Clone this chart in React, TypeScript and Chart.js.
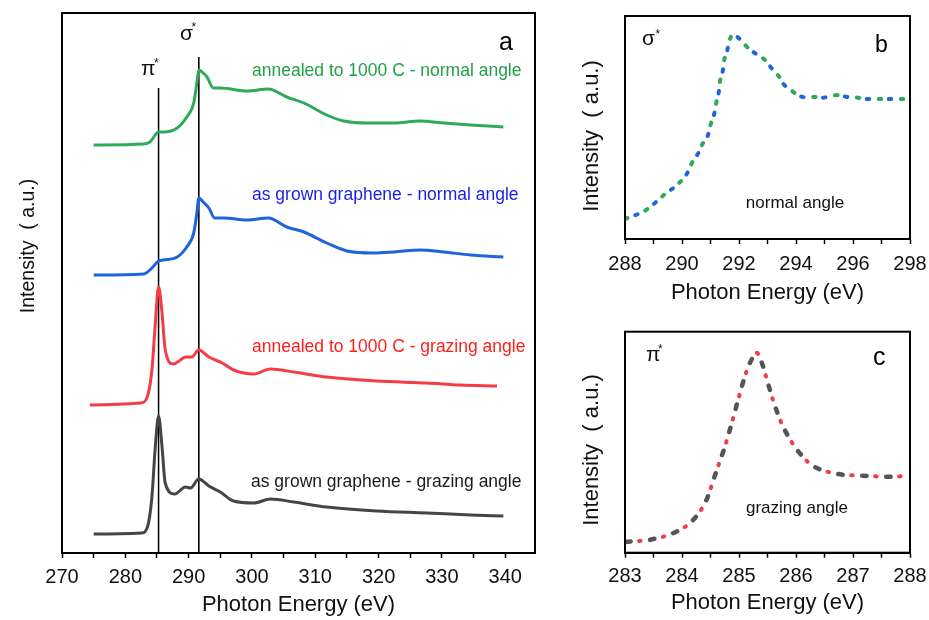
import React, { useEffect, useRef } from "react";
import { Chart, registerables } from "chart.js";
Chart.register(...registerables);

// ---------- Panel a data (arbitrary stacked intensity units) ----------
const A_GREEN_E = [275, 282.9, 283.9, 285.25, 286, 288.2, 289.7, 290.8, 291.3, 291.6, 292.1, 292.9, 293.9, 295, 299.2, 302.6, 305.5, 308.2, 311.8, 314.5, 318.2, 322.4, 326.6, 330.3, 334.5, 339.7];
const A_GREEN_I = [4.08, 4.09, 4.11, 4.21, 4.21, 4.25, 4.36, 4.5, 4.7, 4.83, 4.81, 4.76, 4.65, 4.65, 4.62, 4.64, 4.56, 4.5, 4.38, 4.32, 4.3, 4.3, 4.32, 4.3, 4.28, 4.26];

const A_BLUE_E = [275, 282.9, 284.2, 285.25, 286, 288.2, 289.7, 290.8, 291.3, 291.6, 292.3, 293.2, 294.1, 295.6, 299.2, 302.6, 305.5, 308.2, 311.8, 315, 319.2, 322.4, 326.6, 330.3, 334.5, 339.7];
const A_BLUE_I = [2.78, 2.79, 2.85, 2.92, 2.93, 2.96, 3.06, 3.2, 3.4, 3.55, 3.51, 3.45, 3.35, 3.35, 3.33, 3.35, 3.26, 3.21, 3.1, 3.02, 3.0, 3.01, 3.03, 3.01, 2.98, 2.96];

const A_RED_E = [274.4, 282.4, 283.4, 284.2, 284.7, 285.25, 285.8, 286.3, 287.6, 288.7, 289.5, 290.5, 291.6, 293.2, 295.3, 297.1, 300.3, 302.9, 306.6, 311.8, 319.7, 327.6, 332.9, 338.7];
const A_RED_I = [1.48, 1.5, 1.55, 1.83, 2.26, 2.66, 2.4, 2.03, 1.89, 1.93, 1.96, 1.96, 2.03, 1.96, 1.9, 1.83, 1.79, 1.84, 1.81, 1.76, 1.72, 1.7, 1.68, 1.67];

const A_GRAY_E = [275, 282.6, 283.5, 284.2, 284.7, 285.25, 285.8, 286.3, 287.8, 289.5, 290.3, 291.6, 293.2, 295, 297.1, 300.3, 302.9, 306.6, 311.8, 319.7, 327.6, 334.5, 339.7];
const A_GRAY_I = [0.19, 0.2, 0.26, 0.56, 1.03, 1.37, 1.06, 0.7, 0.59, 0.66, 0.65, 0.74, 0.67, 0.61, 0.52, 0.5, 0.54, 0.51, 0.46, 0.42, 0.4, 0.38, 0.37];

const PI_LINE_E = [285.25, 285.25];
const PI_LINE_I = [4.65, 0];
const SIGMA_LINE_E = [291.6, 291.6];
const SIGMA_LINE_I = [4.96, 0];

const A_LABELS = [
  "annealed to 1000 C - normal angle",
  "as grown graphene - normal angle",
  "annealed to 1000 C - grazing angle",
  "as grown graphene - grazing angle",
];

// ---------- Panel b data (sigma* region, normal angle) ----------
const B_E = [288, 288.74, 289.4, 290.05, 290.49, 290.9, 291.18, 291.33, 291.51, 291.78, 292.36, 292.99, 293.56, 294.02, 294.73, 295.54, 296.01, 296.6, 297.3, 298];
const B_GREEN_I = [0.2, 0.29, 0.45, 0.61, 0.84, 1.06, 1.33, 1.57, 1.82, 2.04, 1.9, 1.77, 1.57, 1.45, 1.42, 1.44, 1.42, 1.4, 1.4, 1.4];
const B_BLUE_I = [0.2, 0.29, 0.45, 0.6, 0.82, 1.03, 1.31, 1.53, 1.79, 2.04, 1.9, 1.76, 1.55, 1.44, 1.41, 1.43, 1.41, 1.4, 1.4, 1.4];

// ---------- Panel c data (pi* region, grazing angle) ----------
const C_E = [283.02, 283.44, 283.9, 284.2, 284.43, 284.6, 284.74, 284.87, 284.99, 285.13, 285.22, 285.31, 285.4, 285.49, 285.6, 285.75, 285.98, 286.27, 286.71, 287.18, 287.65, 288];
const C_RED_I = [0.11, 0.13, 0.21, 0.33, 0.53, 0.81, 1.04, 1.29, 1.54, 1.81, 1.93, 2.0, 1.9, 1.73, 1.52, 1.29, 1.06, 0.88, 0.79, 0.77, 0.76, 0.77];
const C_GRAY_I = [0.11, 0.13, 0.21, 0.33, 0.53, 0.81, 1.04, 1.29, 1.54, 1.81, 1.93, 2.0, 1.9, 1.73, 1.52, 1.29, 1.06, 0.88, 0.79, 0.77, 0.76, 0.77];

const X_TITLE = "Photon Energy (eV)";
const Y_TITLE = "Intensity  ( a.u.)";

const FONT = "'Liberation Sans', Arial, sans-serif";
const GREEN = "#2eaa5a";
const BLUE = "#1f64dc";
const RED = "#f23c46";
const GRAY = "#454545";

const pts = (xs: number[], ys: number[]) => xs.map((x, i) => ({ x, y: ys[i] }));

type TextItem = { text: string; x: number; y: number; size: number; color?: string; align?: CanvasTextAlign };

function decorPlugin(texts: TextItem[], yTitle: { x: number; y: number; size: number }) {
  return {
    id: "decor",
    afterDraw(chart: any) {
      const { ctx, chartArea: a } = chart;
      ctx.save();
      ctx.strokeStyle = "#000";
      ctx.lineWidth = 2;
      ctx.strokeRect(a.left, a.top, a.right - a.left, a.bottom - a.top);
      ctx.textBaseline = "alphabetic";
      for (const t of texts) {
        ctx.font = `${t.size}px ${FONT}`;
        ctx.fillStyle = t.color || "#111";
        ctx.textAlign = t.align || "left";
        ctx.fillText(t.text, t.x, t.y);
      }
      ctx.translate(yTitle.x, yTitle.y);
      ctx.rotate(-Math.PI / 2);
      ctx.textAlign = "center";
      ctx.textBaseline = "middle";
      ctx.font = `${yTitle.size}px ${FONT}`;
      ctx.fillStyle = "#111";
      ctx.fillText(Y_TITLE, 0, 0);
      ctx.restore();
    },
  };
}

function makeOptions(p: {
  xmin: number; xmax: number; step: number; labelEvery: number;
  ymin: number; ymax: number; padTop: number; padRight: number;
  yWidth: number; xHeight: number; tickPad: number; titlePad: number;
}) {
  return {
    responsive: false,
    animation: false as const,
    devicePixelRatio: 1,
    layout: { padding: { top: p.padTop, right: p.padRight, left: 0, bottom: 0 } },
    plugins: { legend: { display: false }, tooltip: { enabled: false } },
    elements: { point: { radius: 0 } },
    scales: {
      x: {
        type: "linear" as const,
        min: p.xmin,
        max: p.xmax,
        afterFit: (s: any) => { s.height = p.xHeight; s.paddingLeft = 0; s.paddingRight = 0; },
        border: { display: true, color: "#000", width: 2 },
        grid: { display: true, drawOnChartArea: false, drawTicks: true, tickLength: 5, color: "#000", tickWidth: 1.5 },
        ticks: {
          stepSize: p.step,
          includeBounds: false,
          autoSkip: false,
          maxRotation: 0,
          padding: p.tickPad,
          color: "#111",
          font: { family: FONT, size: 20 },
          callback: (v: any) => {
            const r = v / p.labelEvery;
            return Math.abs(r - Math.round(r)) < 1e-6 ? String(Math.round(v)) : "";
          },
        },
        title: { display: true, text: X_TITLE, color: "#111", font: { family: FONT, size: 22 }, padding: { top: 0, bottom: p.titlePad } },
      },
      y: {
        type: "linear" as const,
        min: p.ymin,
        max: p.ymax,
        afterFit: (s: any) => { s.width = p.yWidth; s.paddingTop = 0; s.paddingBottom = 0; },
        border: { display: true, color: "#000", width: 2 },
        grid: { display: false },
        ticks: { display: false },
      },
    },
  };
}

function Panel({ left, top, width, height, datasets, options, plugin }: any) {
  const ref = useRef<HTMLCanvasElement | null>(null);
  useEffect(() => {
    if (!ref.current) return;
    const chart = new Chart(ref.current, {
      type: "line",
      data: { datasets },
      options,
      plugins: [plugin],
    } as any);
    return () => chart.destroy();
  }, []);
  return (
    <canvas
      ref={ref}
      width={width}
      height={height}
      style={{ position: "absolute", left, top, width, height }}
    />
  );
}

const solid = (data: any, color: string, w = 3) => ({
  data, borderColor: color, backgroundColor: color, borderWidth: w,
  pointRadius: 0, tension: 0.4, cubicInterpolationMode: "monotone", fill: false,
});

export default function App() {
  const aDatasets = [
    solid(pts(A_GREEN_E, A_GREEN_I), GREEN),
    solid(pts(A_BLUE_E, A_BLUE_I), BLUE),
    solid(pts(A_RED_E, A_RED_I), RED),
    solid(pts(A_GRAY_E, A_GRAY_I), GRAY),
    { data: pts(PI_LINE_E, PI_LINE_I), borderColor: "#000", borderWidth: 1.5, pointRadius: 0, tension: 0 },
    { data: pts(SIGMA_LINE_E, SIGMA_LINE_I), borderColor: "#000", borderWidth: 1, pointRadius: 0, tension: 0 },
  ];
  const aTexts: TextItem[] = [
    { text: "π", x: 141, y: 75, size: 21 },
    { text: "*", x: 154, y: 67, size: 12 },
    { text: "σ", x: 180, y: 40, size: 21 },
    { text: "*", x: 191.5, y: 31, size: 12 },
    { text: "a", x: 499, y: 50, size: 25, color: "#000" },
    { text: A_LABELS[0], x: 252, y: 76, size: 17.5, color: "#22a046" },
    { text: A_LABELS[1], x: 252, y: 200, size: 17.5, color: "#1a1ee6" },
    { text: A_LABELS[2], x: 252, y: 351.5, size: 17.5, color: "#ff1e1e" },
    { text: A_LABELS[3], x: 251, y: 487, size: 17.5, color: "#1a1a1a" },
  ];
  const aOpts = makeOptions({ xmin: 270, xmax: 344.7, step: 5, labelEvery: 10, ymin: 0, ymax: 5.4, padTop: 13, padRight: 25, yWidth: 62, xHeight: 67, tickPad: 7, titlePad: 2 });

  const bDatasets = [
    { ...solid(pts(B_E, B_BLUE_I), BLUE, 4), borderDash: [2.5, 19.5], borderDashOffset: 11, borderCapStyle: "round" },
    { ...solid(pts(B_E, B_GREEN_I), GREEN, 4), borderDash: [2.5, 19.5], borderDashOffset: 0, borderCapStyle: "round" },
  ];
  const bTexts: TextItem[] = [
    { text: "σ", x: 72, y: 45, size: 21 },
    { text: "*", x: 85.5, y: 38, size: 12 },
    { text: "b", x: 305, y: 52, size: 23, color: "#000" },
    { text: "normal angle", x: 225, y: 208, size: 17, align: "center" },
  ];
  const bOpts = makeOptions({ xmin: 288, xmax: 298, step: 1, labelEvery: 2, ymin: 0, ymax: 2.23, padTop: 16, padRight: 19, yWidth: 55, xHeight: 71, tickPad: 8, titlePad: 4 });

  const cDatasets = [
    { ...solid(pts(C_E, C_RED_I), RED, 4), borderDash: [1.5, 22.5], borderDashOffset: -13, borderCapStyle: "round" },
    { ...solid(pts(C_E, C_GRAY_I), "#555555", 4.5), borderDash: [4.5, 19.5], borderDashOffset: 0, borderCapStyle: "round" },
  ];
  const cTexts: TextItem[] = [
    { text: "π", x: 76, y: 51, size: 21 },
    { text: "*", x: 88, y: 43, size: 12 },
    { text: "c", x: 303, y: 55, size: 25, color: "#000" },
    { text: "grazing angle", x: 227, y: 203, size: 17, align: "center" },
  ];
  const cOpts = makeOptions({ xmin: 283, xmax: 288, step: 0.5, labelEvery: 1, ymin: 0, ymax: 2.21, padTop: 21.7, padRight: 19, yWidth: 55, xHeight: 67.3, tickPad: 7, titlePad: 4 });

  return (
    <div style={{ position: "fixed", left: 0, top: 0, width: 929, height: 620, background: "#fff", overflow: "hidden" }}>
      <Panel left={0} top={0} width={560} height={620} datasets={aDatasets} options={aOpts}
        plugin={decorPlugin(aTexts, { x: 29, y: 246, size: 19.5 })} />
      <Panel left={570} top={0} width={359} height={310} datasets={bDatasets} options={bOpts}
        plugin={decorPlugin(bTexts, { x: 22, y: 136, size: 22 })} />
      <Panel left={570} top={310} width={359} height={310} datasets={cDatasets} options={cOpts}
        plugin={decorPlugin(cTexts, { x: 22, y: 140, size: 22 })} />
    </div>
  );
}
